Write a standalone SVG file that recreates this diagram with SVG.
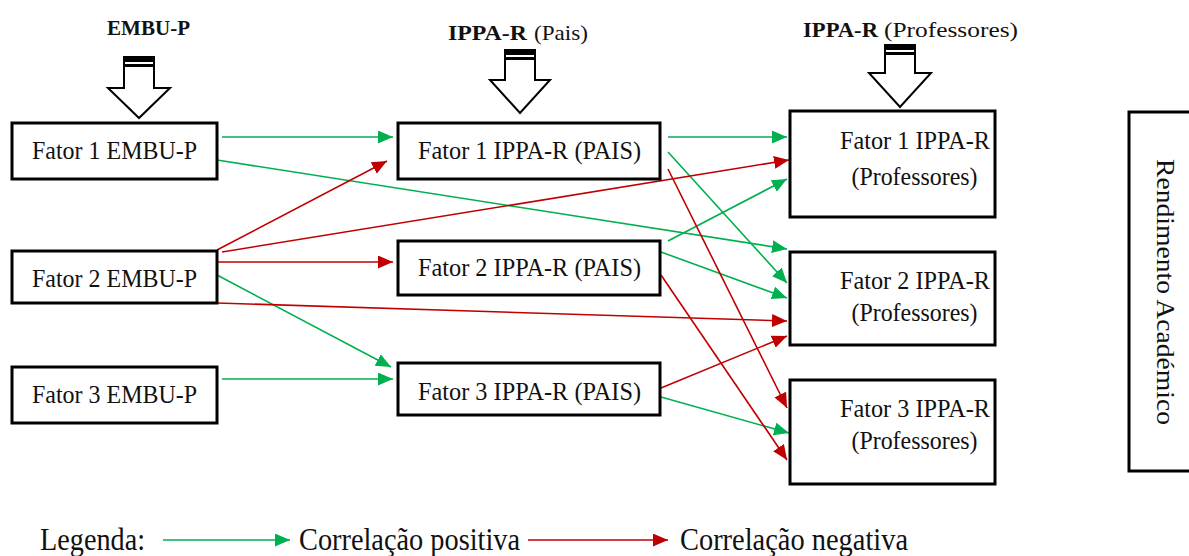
<svg xmlns="http://www.w3.org/2000/svg" width="1189" height="556" viewBox="0 0 1189 556">
<style>
.box{fill:#fff;stroke:#000;stroke-width:3}
.t{font-family:"Liberation Serif","Times New Roman",serif;fill:#111}
.bt{font-size:26px;text-anchor:middle}
.pos{stroke:#00B050;stroke-width:1.6;fill:none;marker-end:url(#ag)}
.neg{stroke:#C00000;stroke-width:1.6;fill:none;marker-end:url(#ar)}
.hdr{fill:#fff;stroke:#000;stroke-width:2;stroke-linejoin:miter}
</style>
<defs>
<marker id="ag" markerUnits="userSpaceOnUse" markerWidth="16" markerHeight="14" refX="15" refY="6.5" orient="auto"><path d="M0,0 L15,6.5 L0,13 Z" fill="#00B050"/></marker>
<marker id="ar" markerUnits="userSpaceOnUse" markerWidth="16" markerHeight="14" refX="15" refY="6.5" orient="auto"><path d="M0,0 L15,6.5 L0,13 Z" fill="#C00000"/></marker>
</defs>
<rect width="1189" height="556" fill="#fff"/>

<g id="header-embu">
<text class="t" x="107" y="35" font-size="21" font-weight="bold" textLength="83" lengthAdjust="spacingAndGlyphs">EMBU-P</text>
<path class="hdr" d="M124,57 L154,57 L154,88 L170,88 L139,118 L108,88 L124,88 Z"/>
<rect x="124" y="57" width="30" height="5" fill="#000"/>
<rect x="124" y="64" width="30" height="3" fill="#000"/>
</g>
<g id="header-ippa-pais">
<text class="t" x="448" y="40" font-size="22" font-weight="bold" textLength="79" lengthAdjust="spacingAndGlyphs">IPPA-R</text>
<text class="t" x="534" y="40" font-size="22" textLength="54" lengthAdjust="spacingAndGlyphs">(Pais)</text>
<path class="hdr" d="M505,50 L535,50 L535,80 L550,80 L520,113 L490,80 L505,80 Z"/>
<rect x="505" y="50" width="30" height="5" fill="#000"/>
<rect x="505" y="57" width="30" height="3" fill="#000"/>
</g>
<g id="header-ippa-prof">
<text class="t" x="803" y="37" font-size="22" font-weight="bold" textLength="75" lengthAdjust="spacingAndGlyphs">IPPA-R</text>
<text class="t" x="884" y="37" font-size="22" textLength="134" lengthAdjust="spacingAndGlyphs">(Professores)</text>
<path class="hdr" d="M885,45 L915,45 L915,73 L931,73 L900,107 L869,73 L885,73 Z"/>
<rect x="885" y="45" width="30" height="5" fill="#000"/>
<rect x="885" y="52" width="30" height="3" fill="#000"/>
</g>

<g id="connectors">
<line class="pos" x1="222" y1="137" x2="393" y2="137"/>
<line class="pos" x1="217" y1="160" x2="787" y2="249"/>
<line class="pos" x1="217" y1="275" x2="391" y2="367"/>
<line class="pos" x1="222" y1="379" x2="393" y2="379"/>
<line class="pos" x1="668" y1="137" x2="787" y2="137"/>
<line class="pos" x1="668" y1="152" x2="787" y2="283"/>
<line class="pos" x1="668" y1="241" x2="787" y2="179"/>
<line class="pos" x1="661" y1="252" x2="787" y2="298"/>
<line class="pos" x1="661" y1="397" x2="789" y2="433"/>
<line class="neg" x1="217" y1="250" x2="387" y2="161"/>
<line class="neg" x1="222" y1="252" x2="789" y2="160"/>
<line class="neg" x1="217" y1="262" x2="393" y2="262"/>
<line class="neg" x1="217" y1="303" x2="787" y2="321"/>
<line class="neg" x1="668" y1="169" x2="787" y2="408"/>
<line class="neg" x1="661" y1="275" x2="787" y2="460"/>
<line class="neg" x1="661" y1="388" x2="787" y2="336"/>
</g>

<g id="embu-f1"><rect class="box" x="12" y="123" width="205" height="56"/><text class="t bt" x="114.5" y="159" textLength="165" lengthAdjust="spacingAndGlyphs">Fator 1 EMBU-P</text></g>
<g id="embu-f2"><rect class="box" x="12" y="251" width="205" height="52"/><text class="t bt" x="114.5" y="287" textLength="165" lengthAdjust="spacingAndGlyphs">Fator 2 EMBU-P</text></g>
<g id="embu-f3"><rect class="box" x="12" y="367" width="205" height="56"/><text class="t bt" x="114.5" y="403" textLength="165" lengthAdjust="spacingAndGlyphs">Fator 3 EMBU-P</text></g>

<g id="pais-f1"><rect class="box" x="398" y="123" width="262" height="56"/><text class="t bt" x="529.5" y="159" textLength="223" lengthAdjust="spacingAndGlyphs">Fator 1 IPPA-R (PAIS)</text></g>
<g id="pais-f2"><rect class="box" x="398" y="241" width="262" height="54"/><text class="t bt" x="529.5" y="276" textLength="223" lengthAdjust="spacingAndGlyphs">Fator 2 IPPA-R (PAIS)</text></g>
<g id="pais-f3"><rect class="box" x="398" y="363" width="262" height="52"/><text class="t bt" x="529.5" y="400" textLength="223" lengthAdjust="spacingAndGlyphs">Fator 3 IPPA-R (PAIS)</text></g>

<g id="prof-f1"><rect class="box" x="790" y="111" width="205" height="106"/>
<text class="t bt" x="915" y="149" textLength="150" lengthAdjust="spacingAndGlyphs">Fator 1 IPPA-R</text>
<text class="t bt" x="914.5" y="185" textLength="126" lengthAdjust="spacingAndGlyphs">(Professores)</text></g>
<g id="prof-f2"><rect class="box" x="790" y="252" width="205" height="93"/>
<text class="t bt" x="915" y="289" textLength="150" lengthAdjust="spacingAndGlyphs">Fator 2 IPPA-R</text>
<text class="t bt" x="914.5" y="321" textLength="126" lengthAdjust="spacingAndGlyphs">(Professores)</text></g>
<g id="prof-f3"><rect class="box" x="790" y="380" width="205" height="104"/>
<text class="t bt" x="915" y="417" textLength="150" lengthAdjust="spacingAndGlyphs">Fator 3 IPPA-R</text>
<text class="t bt" x="914.5" y="449" textLength="126" lengthAdjust="spacingAndGlyphs">(Professores)</text></g>

<g id="rendimento"><rect class="box" x="1129" y="112" width="80" height="359"/>
<text class="t" font-size="26" text-anchor="middle" transform="translate(1157,292) rotate(90)" textLength="266" lengthAdjust="spacingAndGlyphs">Rendimento Académico</text></g>

<g id="legenda">
<text class="t" x="40" y="550" font-size="31" textLength="105" lengthAdjust="spacingAndGlyphs">Legenda:</text>
<line x1="163" y1="540" x2="290" y2="540" stroke="#00B050" stroke-width="1.6" marker-end="url(#ag)"/>
<text class="t" x="299" y="550" font-size="31" textLength="221" lengthAdjust="spacingAndGlyphs">Correlação positiva</text>
<line x1="528" y1="540" x2="668" y2="540" stroke="#C00000" stroke-width="1.6" marker-end="url(#ar)"/>
<text class="t" x="680" y="550" font-size="31" textLength="228" lengthAdjust="spacingAndGlyphs">Correlação negativa</text>
</g>
</svg>
